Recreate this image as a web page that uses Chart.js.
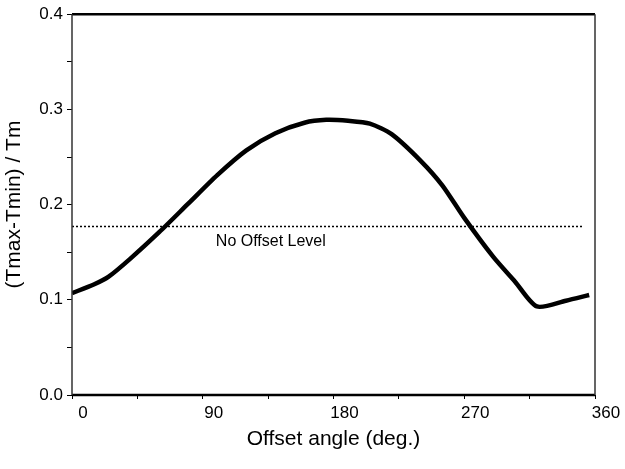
<!DOCTYPE html>
<html>
<head>
<meta charset="utf-8">
<script src="https://cdn.jsdelivr.net/npm/chart.js@4"></script>
<style>
  html, body { margin: 0; padding: 0; background: #fff; }
  #wrap { width: 625px; height: 469px; }
</style>
</head>
<body>
<div id="wrap"><canvas id="offsetChart"></canvas></div>
<script>
// offset angle (deg.) vs (Tmax-Tmin)/Tm
const angles = [0, 15, 25, 40, 60, 80, 100, 120, 140, 160, 175, 190, 205, 220, 240, 255, 270, 290, 305, 320, 340, 356];
const ratios = [0.107, 0.116, 0.124, 0.143, 0.171, 0.201, 0.231, 0.257, 0.275, 0.286, 0.289, 0.288, 0.285, 0.274, 0.246, 0.220, 0.186, 0.145, 0.119, 0.093, 0.099, 0.105];
const noOffsetLevel = 0.177;
const levelRange = [0, 352];
const levelLabel = 'No Offset Level';

const FONT = '"Liberation Sans", Arial, sans-serif';

const frame = {
    id: 'frame',
    afterDatasetsDraw(chart) {
        const { ctx, chartArea: a, scales } = chart;
        ctx.save();
        ctx.strokeStyle = '#000';
        ctx.lineWidth = 2.5;
        ctx.beginPath();
        ctx.moveTo(a.left, a.top); ctx.lineTo(a.right, a.top);
        ctx.moveTo(a.left, a.bottom); ctx.lineTo(a.right, a.bottom);
        ctx.stroke();
        ctx.strokeStyle = '#333';
        ctx.lineWidth = 1.5;
        ctx.beginPath();
        ctx.moveTo(a.left, a.top); ctx.lineTo(a.left, a.bottom);
        ctx.moveTo(a.right, a.top); ctx.lineTo(a.right, a.bottom);
        ctx.stroke();
        // label for the reference level
        ctx.fillStyle = '#000';
        ctx.font = '16px ' + FONT;
        ctx.textBaseline = 'middle';
        ctx.fillText(levelLabel, scales.x.getPixelForValue(99), scales.y.getPixelForValue(0.161));
        ctx.restore();
    }
};

const ctx = document.getElementById('offsetChart').getContext('2d');
const offsetChart = new Chart(ctx, {
    type: 'line',
    data: {
        datasets: [
            {
                data: angles.map((a, i) => ({ x: a, y: ratios[i] })),
                borderColor: '#000',
                borderWidth: 4.5,
                pointRadius: 0,
                fill: false,
                tension: 0.25
            },
            {
                data: levelRange.map(a => ({ x: a, y: noOffsetLevel })),
                borderColor: '#000',
                borderWidth: 1.5,
                borderDash: [2, 2],
                pointRadius: 0,
                fill: false
            }
        ]
    },
    options: {
        responsive: true,
        maintainAspectRatio: false,
        animation: false,
        layout: { padding: { top: 14, right: 30, left: 0, bottom: 0 } },
        plugins: { legend: { display: false }, tooltip: { enabled: false } },
        scales: {
            x: {
                type: 'linear',
                min: 0,
                max: 360,
                afterFit: s => { s.height = 74; },
                border: { display: false },
                grid: { drawOnChartArea: false, tickLength: 4, color: '#000' },
                ticks: {
                    stepSize: 45,
                    labelOffset: 11,
                    padding: 4,
                    color: '#000',
                    font: { family: FONT, size: 17 },
                    callback: v => (v % 90 === 0 ? v : '')
                },
                title: {
                    display: true,
                    text: 'Offset angle (deg.)',
                    color: '#000',
                    font: { family: FONT, size: 21 },
                    padding: { top: 4, bottom: 17 }
                }
            },
            y: {
                min: 0,
                max: 0.4,
                afterFit: s => { s.width = 72; },
                border: { display: false },
                grid: { drawOnChartArea: false, tickLength: 5, color: '#000' },
                ticks: {
                    stepSize: 0.05,
                    padding: 4,
                    color: '#000',
                    font: { family: FONT, size: 17 },
                    callback: v => (Math.round(v * 100) % 10 === 0 ? v.toFixed(1) : '')
                },
                title: {
                    display: true,
                    text: '(Tmax-Tmin) / Tm',
                    color: '#000',
                    font: { family: FONT, size: 21 },
                    padding: { top: 2, bottom: 6 }
                }
            }
        }
    },
    plugins: [frame]
});
</script>
</body>
</html>
